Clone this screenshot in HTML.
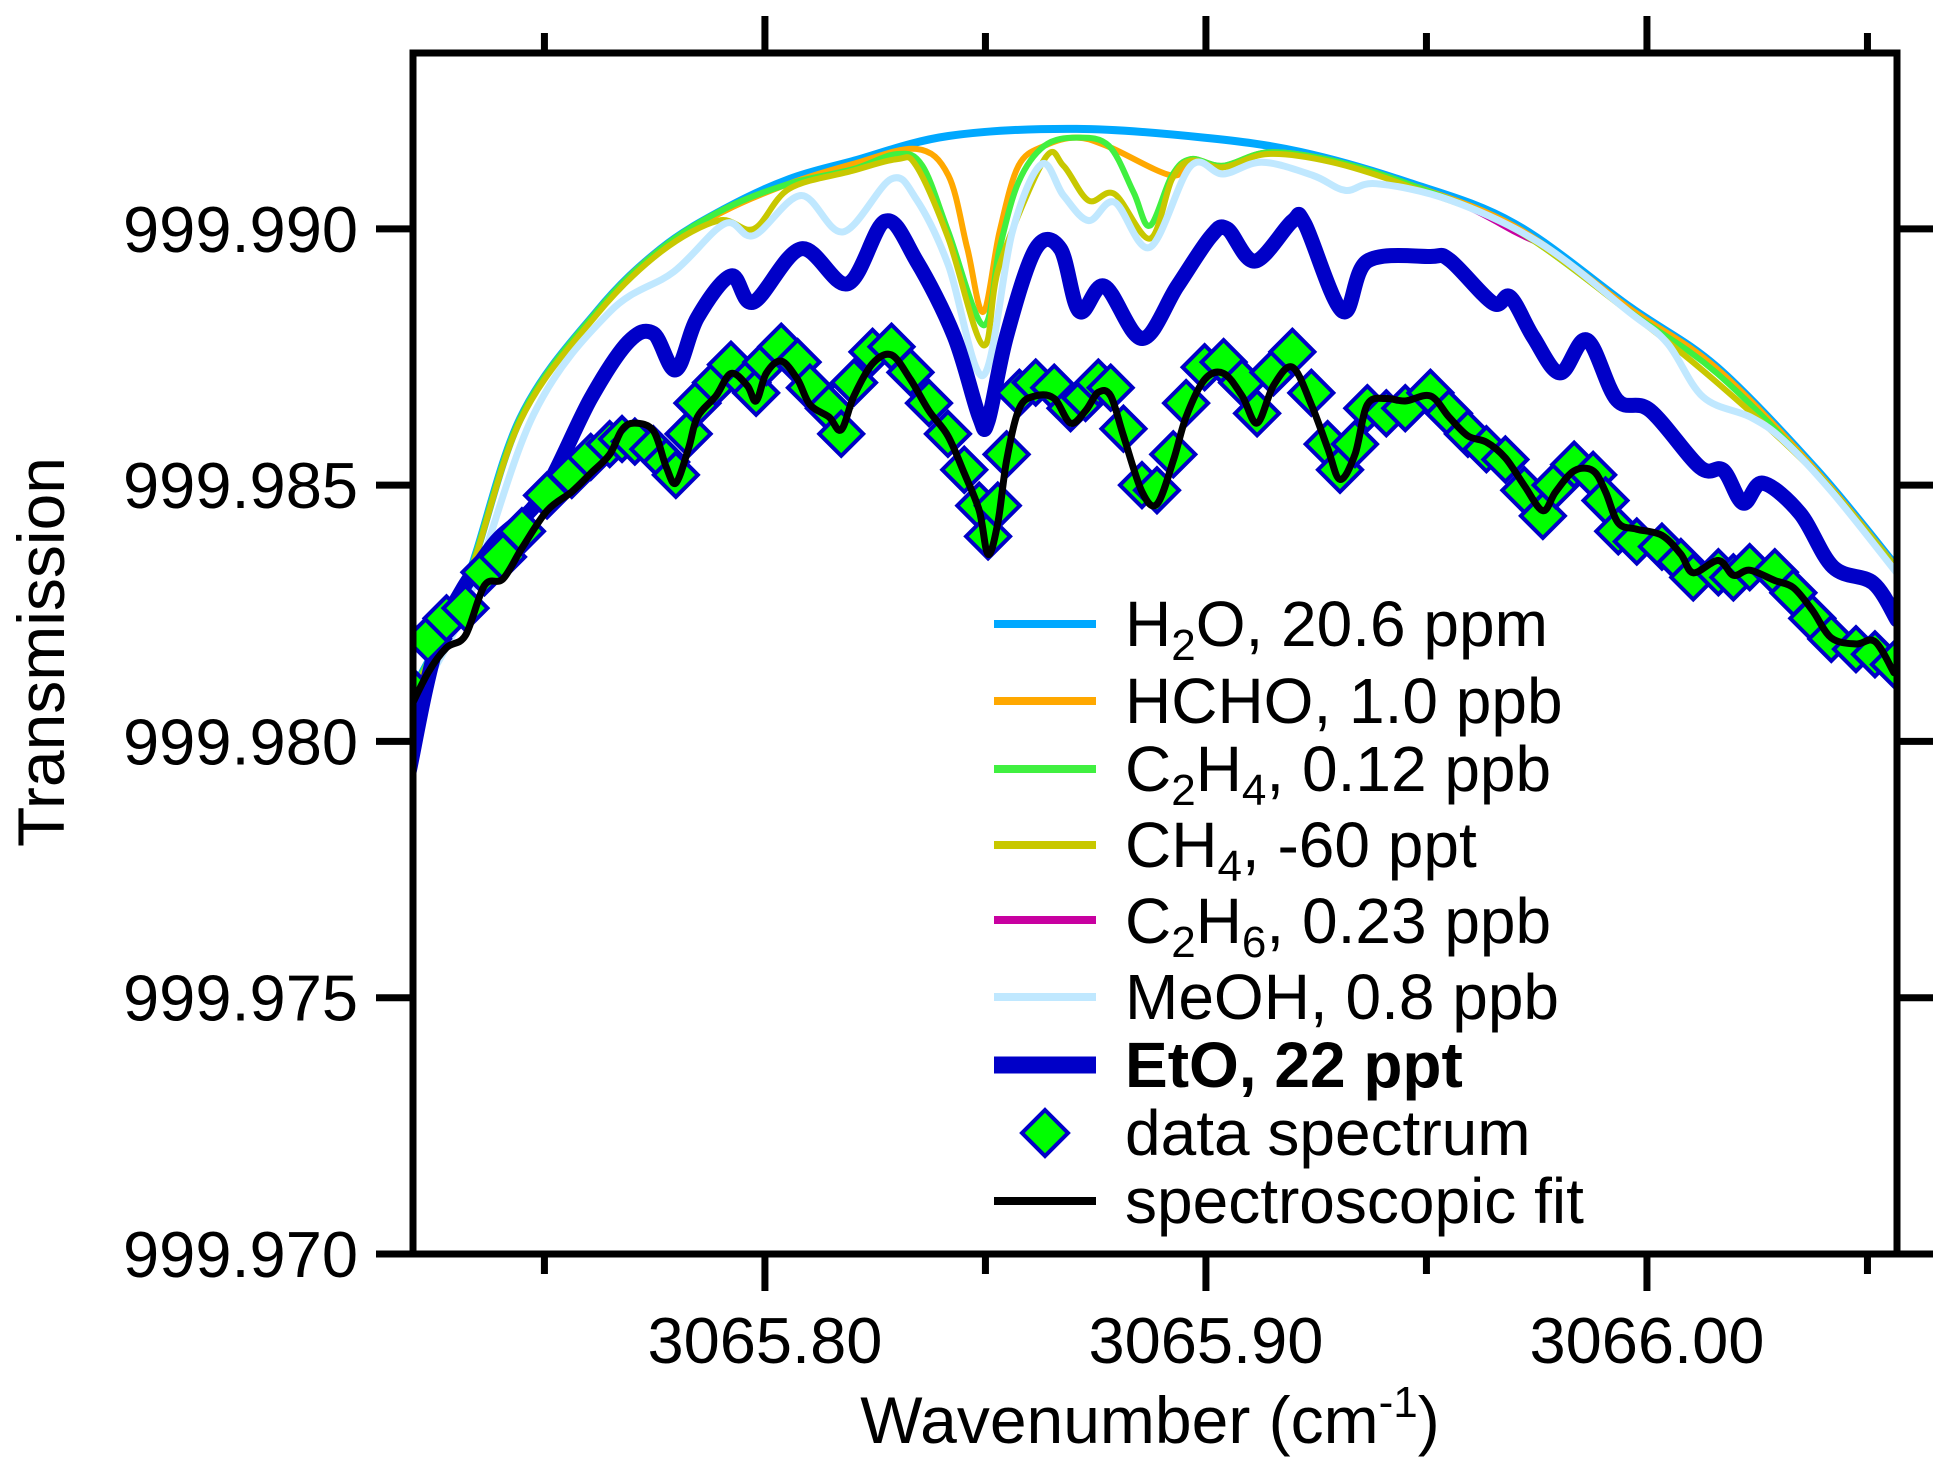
<!DOCTYPE html>
<html><head><meta charset="utf-8"><style>
html,body{margin:0;padding:0;background:#fff;}
svg text{font-family:"Liberation Sans",Arial,sans-serif;fill:#000;}
</style></head><body>
<svg id="chart" width="1951" height="1476" viewBox="0 0 1951 1476" xmlns="http://www.w3.org/2000/svg" style="position:absolute;left:0;top:0">
<defs><clipPath id="plotclip"><rect x="413" y="53" width="1484" height="1201"/></clipPath></defs>
<rect width="1951" height="1476" fill="#fff"/>
<g id="series" clip-path="url(#plotclip)"></g>
<g id="axes"></g>
</svg>
<script>
// ---- axis ticks ----
const yTickValues = [999.990, 999.985, 999.980, 999.975, 999.970];
const yTickLabels = ["999.990", "999.985", "999.980", "999.975", "999.970"];
const xMajorValues = [3065.80, 3065.90, 3066.00];
const xMajorLabels = ["3065.80", "3065.90", "3066.00"];
const xMinorValues = [3065.75, 3065.85, 3065.95, 3066.05];

// ---- series data ----
const wnH2O = [3065.7193,3065.7320,3065.7445,3065.7618,3065.7764,3065.7909,3065.8055,3065.8198,3065.8416,3065.8707,3065.8995,3065.9214,3065.9457,3065.9700,3065.9962,3066.0159,3066.0386,3066.0567];
const vH2O = [999.98086,999.98305,999.98630,999.98838,999.98961,999.99039,999.99097,999.99132,999.99181,999.99195,999.99178,999.99150,999.99091,999.99010,999.98847,999.98730,999.98529,999.98340];

const wnHCHO = [3065.7193,3065.7320,3065.7445,3065.7618,3065.7764,3065.7909,3065.8055,3065.8198,3065.8343,3065.8416,3065.8459,3065.8495,3065.8532,3065.8575,3065.8634,3065.8707,3065.8780,3065.8923,3065.8966,3065.9039,3065.9141,3065.9286,3065.9457,3065.9700,3065.9962,3066.0159,3066.0386,3066.0567];
const vHCHO = [999.98086,999.98305,999.98630,999.98838,999.98961,999.99035,999.99088,999.99126,999.99156,999.99104,999.98961,999.98838,999.98994,999.99123,999.99162,999.99178,999.99160,999.99104,999.99136,999.99123,999.99149,999.99133,999.99088,999.99005,999.98844,999.98727,999.98526,999.98338];

const wnC2H4 = [3065.7193,3065.7320,3065.7445,3065.7618,3065.7764,3065.7909,3065.8055,3065.8198,3065.8300,3065.8357,3065.8416,3065.8495,3065.8532,3065.8575,3065.8634,3065.8707,3065.8780,3065.8836,3065.8873,3065.8923,3065.8966,3065.9039,3065.9141,3065.9286,3065.9457,3065.9700,3065.9962,3066.0159,3066.0386,3066.0567];
const vC2H4 = [999.98086,999.98305,999.98630,999.98838,999.98961,999.99039,999.99088,999.99116,999.99146,999.99123,999.98994,999.98812,999.98961,999.99091,999.99162,999.99178,999.99162,999.99071,999.99006,999.99104,999.99136,999.99123,999.99149,999.99133,999.99088,999.99000,999.98838,999.98718,999.98522,999.98336];

const wnCH4 = [3065.7193,3065.7320,3065.7445,3065.7618,3065.7764,3065.7895,3065.7975,3065.8055,3065.8198,3065.8300,3065.8343,3065.8416,3065.8495,3065.8532,3065.8634,3065.8677,3065.8734,3065.8793,3065.8873,3065.8923,3065.8966,3065.9039,3065.9141,3065.9286,3065.9457,3065.9700,3065.9962,3066.0159,3066.0386,3066.0567];
const vCH4 = [999.98080,999.98300,999.98625,999.98832,999.98955,999.99016,999.99000,999.99078,999.99113,999.99136,999.99123,999.98981,999.98773,999.98929,999.99136,999.99123,999.99055,999.99068,999.98981,999.99097,999.99133,999.99120,999.99146,999.99130,999.99084,999.99000,999.98836,999.98700,999.98520,999.98334];

const wnC2H6 = [3065.7193,3065.7320,3065.7445,3065.7618,3065.7764,3065.7909,3065.8055,3065.8198,3065.8416,3065.8707,3065.8995,3065.9214,3065.9457,3065.9600,3065.9705,3065.9800,3065.9962,3066.0159,3066.0386,3066.0567];
const vC2H6 = [999.98086,999.98305,999.98630,999.98838,999.98961,999.99039,999.99097,999.99132,999.99181,999.99195,999.99178,999.99150,999.99091,999.99040,999.98992,999.98950,999.98847,999.98730,999.98529,999.98340];

const wnMeOH = [3065.7193,3065.7320,3065.7475,3065.7648,3065.7793,3065.7909,3065.7975,3065.8082,3065.8177,3065.8286,3065.8343,3065.8416,3065.8495,3065.8561,3065.8627,3065.8677,3065.8734,3065.8793,3065.8873,3065.8966,3065.9039,3065.9127,3065.9243,3065.9316,3065.9386,3065.9553,3065.9758,3065.9962,3066.0046,3066.0127,3066.0234,3066.0309,3066.0422,3066.0567];
const vMeOH = [999.98060,999.98260,999.98637,999.98838,999.98916,999.99010,999.98987,999.99065,999.98994,999.99097,999.99058,999.98929,999.98714,999.98994,999.99126,999.99065,999.99016,999.99052,999.98964,999.99123,999.99107,999.99130,999.99104,999.99075,999.99088,999.99056,999.98972,999.98836,999.98777,999.98672,999.98633,999.98588,999.98484,999.98328];

const wnEtO = [3065.7193,3065.7264,3065.7378,3065.7491,3065.7605,3065.7690,3065.7747,3065.7798,3065.7847,3065.7923,3065.7974,3065.8082,3065.8188,3065.8273,3065.8344,3065.8429,3065.8486,3065.8506,3065.8548,3065.8614,3065.8670,3065.8713,3065.8770,3065.8855,3065.8935,3065.9011,3065.9048,3065.9111,3065.9196,3065.9224,3065.9310,3065.9366,3065.9509,3065.9553,3065.9651,3065.9690,3065.9742,3065.9803,3065.9864,3065.9932,3066.0007,3066.0120,3066.0173,3066.0218,3066.0263,3066.0347,3066.0422,3066.0513,3066.0567];
const vEtO = [999.97940,999.98207,999.98377,999.98475,999.98669,999.98779,999.98796,999.98725,999.98827,999.98908,999.98857,999.98961,999.98893,999.99015,999.98937,999.98791,999.98633,999.98625,999.98791,999.98961,999.98961,999.98839,999.98888,999.98786,999.98888,999.98985,999.99000,999.98937,999.99015,999.99010,999.98839,999.98937,999.98946,999.98939,999.98855,999.98867,999.98789,999.98719,999.98783,999.98666,999.98646,999.98535,999.98529,999.98465,999.98504,999.98445,999.98340,999.98309,999.98237];

const wnFit = [3065.7187,3065.7236,3065.7278,3065.7321,3065.7364,3065.7406,3065.7449,3065.7506,3065.7562,3065.7605,3065.7648,3065.7676,3065.7705,3065.7747,3065.7776,3065.7798,3065.7827,3065.7847,3065.7889,3065.7923,3065.7960,3065.7980,3065.8003,3065.8037,3065.8074,3065.8102,3065.8145,3065.8173,3065.8202,3065.8244,3065.8287,3065.8330,3065.8372,3065.8415,3065.8452,3065.8486,3065.8506,3065.8528,3065.8548,3065.8577,3065.8614,3065.8656,3065.8693,3065.8727,3065.8756,3065.8784,3065.8813,3065.8855,3065.8889,3065.8926,3065.8955,3065.8997,3065.9040,3065.9082,3065.9116,3065.9153,3065.9196,3065.9239,3065.9276,3065.9304,3065.9338,3065.9366,3065.9409,3065.9452,3065.9509,3065.9551,3065.9594,3065.9636,3065.9679,3065.9722,3065.9764,3065.9793,3065.9835,3065.9878,3065.9906,3065.9935,3065.9977,3066.0034,3066.0077,3066.0105,3066.0162,3066.0196,3066.0233,3066.0290,3066.0332,3066.0375,3066.0418,3066.0474,3066.0517,3066.0560];
const vFit = [999.98049,999.98134,999.98183,999.98207,999.98304,999.98317,999.98377,999.98450,999.98487,999.98523,999.98560,999.98608,999.98621,999.98606,999.98536,999.98504,999.98572,999.98633,999.98674,999.98718,999.98694,999.98664,999.98718,999.98742,999.98706,999.98657,999.98633,999.98608,999.98674,999.98737,999.98754,999.98706,999.98645,999.98596,999.98523,999.98450,999.98365,999.98426,999.98548,999.98650,999.98674,999.98669,999.98621,999.98645,999.98681,999.98674,999.98596,999.98487,999.98463,999.98548,999.98633,999.98706,999.98718,999.98674,999.98621,999.98694,999.98730,999.98657,999.98572,999.98511,999.98560,999.98657,999.98669,999.98664,999.98674,999.98633,999.98596,999.98584,999.98553,999.98499,999.98450,999.98487,999.98528,999.98528,999.98487,999.98426,999.98414,999.98402,999.98365,999.98329,999.98353,999.98324,999.98334,999.98314,999.98300,999.98256,999.98202,999.98190,999.98195,999.98134];
const vData = [999.98110,999.98200,999.98240,999.98260,999.98330,999.98360,999.98410,999.98480,999.98520,999.98555,999.98580,999.98590,999.98585,999.98570,999.98545,999.98520,999.98600,999.98660,999.98700,999.98735,999.98700,999.98680,999.98740,999.98770,999.98740,999.98690,999.98650,999.98600,999.98700,999.98760,999.98770,999.98720,999.98660,999.98600,999.98530,999.98460,999.98400,999.98460,999.98560,999.98680,999.98700,999.98690,999.98650,999.98670,999.98700,999.98690,999.98610,999.98500,999.98490,999.98560,999.98660,999.98730,999.98740,999.98700,999.98640,999.98720,999.98760,999.98680,999.98580,999.98530,999.98580,999.98650,999.98640,999.98650,999.98680,999.98640,999.98600,999.98570,999.98550,999.98490,999.98440,999.98500,999.98540,999.98520,999.98470,999.98410,999.98390,999.98380,999.98350,999.98320,999.98330,999.98320,999.98340,999.98330,999.98290,999.98240,999.98200,999.98180,999.98170,999.98150];

// ---- axis functions ----
const PL=413, PR=1897, PT=53, PB=1254;
const X0=3065.7202, X1=3066.0567, Y0=999.970, Y1=999.99343;
function xS(w){ return PL + (w - X0) / (X1 - X0) * (PR - PL); }
function yS(v){ return PB - (v - Y0) / (Y1 - Y0) * (PB - PT); }

const NS="http://www.w3.org/2000/svg";
function mk(tag, attrs, parent){
  const e=document.createElementNS(NS,tag);
  for(const k in attrs) e.setAttribute(k, attrs[k]);
  parent.appendChild(e); return e;
}
const gS=document.getElementById('series');
const gA=document.getElementById('axes');

function smoothPath(pts){
  let d='M'+pts[0][0].toFixed(1)+','+pts[0][1].toFixed(1);
  for(let i=0;i<pts.length-1;i++){
    const p0=pts[Math.max(0,i-1)], p1=pts[i], p2=pts[i+1], p3=pts[Math.min(pts.length-1,i+2)];
    const c1x=p1[0]+(p2[0]-p0[0])/6, c1y=p1[1]+(p2[1]-p0[1])/6;
    const c2x=p2[0]-(p3[0]-p1[0])/6, c2y=p2[1]-(p3[1]-p1[1])/6;
    d+='C'+c1x.toFixed(1)+','+c1y.toFixed(1)+' '+c2x.toFixed(1)+','+c2y.toFixed(1)+' '+p2[0].toFixed(1)+','+p2[1].toFixed(1);
  }
  return d;
}
function drawLine(wn, v, color, width, name){
  const pts = wn.map((w,i)=>[xS(w), yS(v[i])]);
  const p = mk('path',{d:smoothPath(pts), fill:'none', stroke:color, 'stroke-width':width, 'stroke-linejoin':'round', 'stroke-linecap':'round'}, gS);
  
  
}
drawLine(wnC2H6, vC2H6, '#c800a0', 6, 'c2h6-line');
drawLine(wnH2O, vH2O, '#00a8ff', 8, 'h2o-line');
drawLine(wnHCHO, vHCHO, '#ffa800', 6, 'hcho-line');
drawLine(wnC2H4, vC2H4, '#40f040', 6, 'c2h4-line');
drawLine(wnCH4, vCH4, '#c8c800', 6, 'ch4-line');
drawLine(wnMeOH, vMeOH, '#c0e8ff', 7, 'meoh-line');
drawLine(wnEtO, vEtO, '#0000c8', 15, 'eto-line');

function diamond(cx, cy, r, parent){
  return mk('path',{d:`M${cx},${cy-r}L${cx+r},${cy}L${cx},${cy+r}L${cx-r},${cy}Z`, fill:'#00ff00', stroke:'#0000c8', 'stroke-width':4}, parent);
}
wnFit.forEach((w,i)=>{
  const p = diamond(xS(w), yS(vData[i]), 22, gS);
  
  
});
drawLine(wnFit, vFit, '#000000', 7, 'fit-line');

// ---- axes frame & ticks ----
const frame = mk('rect',{x:PL, y:PT, width:PR-PL, height:PB-PT, fill:'none', stroke:'#000', 'stroke-width':7}, gA);



yTickValues.forEach((v,i)=>{
  const y=yS(v);
  const t1 = mk('line',{x1:376, y1:y, x2:PL, y2:y, stroke:'#000', 'stroke-width':7}, gA);
  
  
  const t2 = mk('line',{x1:PR, y1:y, x2:1933, y2:y, stroke:'#000', 'stroke-width':7}, gA);
  
  
  const tx = mk('text',{x:358, y:y+23, 'text-anchor':'end', 'font-size':65}, gA);
  tx.textContent = yTickLabels[i];
  
  
});
xMajorValues.forEach((w,i)=>{
  const x=xS(w);
  const t1 = mk('line',{x1:x, y1:PB, x2:x, y2:1291, stroke:'#000', 'stroke-width':7}, gA);
  
  
  const t2 = mk('line',{x1:x, y1:16, x2:x, y2:PT, stroke:'#000', 'stroke-width':7}, gA);
  
  
  const tx = mk('text',{x:x, y:1363, 'text-anchor':'middle', 'font-size':65}, gA);
  tx.textContent = xMajorLabels[i];
  
  
});
xMinorValues.forEach(w=>{
  const x=xS(w);
  const t1 = mk('line',{x1:x, y1:PB, x2:x, y2:1274, stroke:'#000', 'stroke-width':7}, gA);
  
  
  const t2 = mk('line',{x1:x, y1:33, x2:x, y2:PT, stroke:'#000', 'stroke-width':7}, gA);
  
  
});
</script>
<svg style="position:absolute;left:0;top:0" width="1951" height="1476" viewBox="0 0 1951 1476" xmlns="http://www.w3.org/2000/svg">
<text x="1150" y="1443" text-anchor="middle" font-size="66">Wavenumber (cm<tspan dy="-26" font-size="44">-1</tspan><tspan dy="26">)</tspan></text>
<text transform="translate(64,652) rotate(-90)" text-anchor="middle" font-size="66">Transmission</text>
<g font-size="64">
<g><line x1="994" y1="624" x2="1096" y2="624" stroke="#00a8ff" stroke-width="8"/><text x="1125" y="646">H<tspan dy="14" font-size="44">2</tspan><tspan dy="-14">O, 20.6 ppm</tspan></text></g>
<g><line x1="994" y1="701" x2="1096" y2="701" stroke="#ffa800" stroke-width="8"/><text x="1125" y="723">HCHO, 1.0 ppb</text></g>
<g><line x1="994" y1="769" x2="1096" y2="769" stroke="#40f040" stroke-width="8"/><text x="1125" y="791">C<tspan dy="14" font-size="44">2</tspan><tspan dy="-14">H</tspan><tspan dy="14" font-size="44">4</tspan><tspan dy="-14">, 0.12 ppb</tspan></text></g>
<g><line x1="994" y1="845" x2="1096" y2="845" stroke="#c8c800" stroke-width="8"/><text x="1125" y="867">CH<tspan dy="14" font-size="44">4</tspan><tspan dy="-14">, -60 ppt</tspan></text></g>
<g><line x1="994" y1="920" x2="1096" y2="920" stroke="#c800a0" stroke-width="8"/><text x="1125" y="943">C<tspan dy="14" font-size="44">2</tspan><tspan dy="-14">H</tspan><tspan dy="14" font-size="44">6</tspan><tspan dy="-14">, 0.23 ppb</tspan></text></g>
<g><line x1="994" y1="997" x2="1096" y2="997" stroke="#c0e8ff" stroke-width="8"/><text x="1125" y="1019">MeOH, 0.8 ppb</text></g>
<g><line x1="994" y1="1065" x2="1096" y2="1065" stroke="#0000c8" stroke-width="17"/><text x="1125" y="1087" font-weight="bold">EtO, 22 ppt</text></g>
<g><path d="M1045,1110L1068,1133L1045,1156L1022,1133Z" fill="#00ff00" stroke="#0000c8" stroke-width="4"/><text x="1125" y="1155">data spectrum</text></g>
<g><line x1="994" y1="1201" x2="1096" y2="1201" stroke="#000" stroke-width="8"/><text x="1125" y="1223">spectroscopic fit</text></g>
</g>
</svg>
</body></html>
